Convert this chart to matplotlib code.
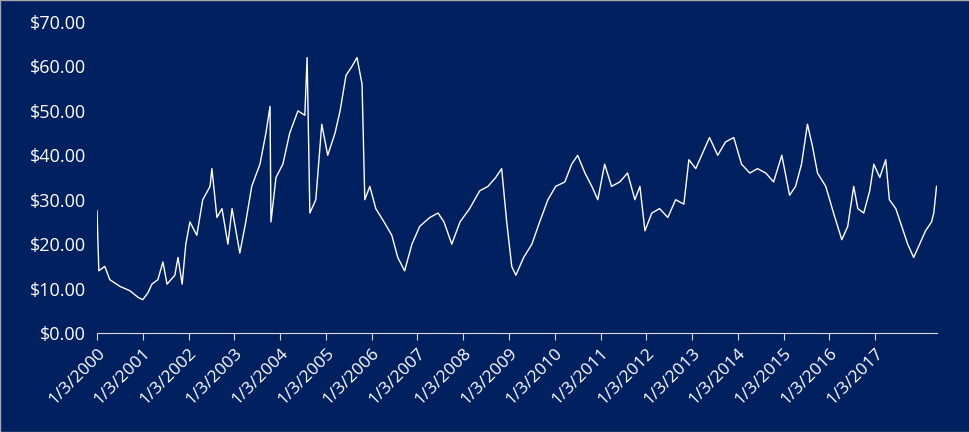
import matplotlib
matplotlib.use("Agg")
import matplotlib.pyplot as plt
from matplotlib.ticker import FuncFormatter

# price knots (decimal year, dollars)
years = [2000.00, 2000.04, 2000.17, 2000.28, 2000.50, 2000.72, 2000.90, 2001.00, 2001.11, 2001.20,
         2001.33, 2001.44, 2001.53, 2001.70, 2001.77, 2001.86, 2001.94, 2002.03, 2002.18, 2002.31,
         2002.47, 2002.51, 2002.62, 2002.73, 2002.86, 2002.95, 2003.12, 2003.25, 2003.38, 2003.56,
         2003.69, 2003.78, 2003.80, 2003.91, 2004.06, 2004.21, 2004.39, 2004.54, 2004.59, 2004.65,
         2004.78, 2004.91, 2005.04, 2005.20, 2005.31, 2005.44, 2005.57, 2005.68, 2005.79, 2005.85,
         2005.96, 2006.09, 2006.27, 2006.44, 2006.57, 2006.72, 2006.88, 2007.05, 2007.27, 2007.45,
         2007.58, 2007.75, 2007.93, 2008.14, 2008.36, 2008.54, 2008.71, 2008.84, 2008.95, 2009.06,
         2009.15, 2009.32, 2009.50, 2009.67, 2009.85, 2010.02, 2010.22, 2010.37, 2010.50, 2010.66,
         2010.81, 2010.94, 2011.09, 2011.24, 2011.42, 2011.59, 2011.75, 2011.86, 2011.97, 2012.12,
         2012.29, 2012.47, 2012.64, 2012.82, 2012.93, 2013.08, 2013.25, 2013.38, 2013.56, 2013.73,
         2013.91, 2014.08, 2014.26, 2014.43, 2014.61, 2014.78, 2014.96, 2015.13, 2015.26, 2015.39,
         2015.52, 2015.63, 2015.74, 2015.92, 2016.09, 2016.27, 2016.40, 2016.53, 2016.62, 2016.75,
         2016.88, 2016.97, 2017.10, 2017.23, 2017.31, 2017.45, 2017.58, 2017.71, 2017.84, 2017.97,
         2018.10, 2018.23, 2018.28, 2018.34]
prices = [27.5, 14, 15, 12, 10.5, 9.5, 8, 7.5, 9, 11,
          12, 16, 11, 13, 17, 11, 20, 25, 22, 30,
          33, 37, 26, 28, 20, 28, 18, 25, 33, 38,
          45, 51, 25, 35, 38, 45, 50, 49, 62, 27,
          30, 47, 40, 45, 50, 58, 60, 62, 56, 30,
          33, 28, 25, 22, 17, 14, 20, 24, 26, 27,
          25, 20, 25, 28, 32, 33, 35, 37, 25, 15,
          13, 17, 20, 25, 30, 33, 34, 38, 40, 36,
          33, 30, 38, 33, 34, 36, 30, 33, 23, 27,
          28, 26, 30, 29, 39, 37, 41, 44, 40, 43,
          44, 38, 36, 37, 36, 34, 40, 31, 33, 38,
          47, 42, 36, 33, 27, 21, 24, 33, 28, 27,
          32, 38, 35, 39, 30, 28, 24, 20, 17, 20,
          23, 25, 27, 33]
tick_years = list(range(2000, 2018))
tick_labels = ["1/3/%d" % y for y in tick_years]

bg = "#002060"
fig = plt.figure(figsize=(9.7, 4.32), dpi=100, facecolor=bg)
ax = fig.add_axes([97/970, 1 - 333/432, (937-97)/970, (333-22)/432], facecolor=bg)
ax.plot(years, prices, color="white", lw=1)
ax.set_xlim(2000, 2018.35)
ax.set_ylim(0, 70)
ax.set_yticks(range(0, 71, 10))
ax.yaxis.set_major_formatter(FuncFormatter(lambda v, p: "$%.2f" % v))
ax.set_xticks(tick_years)
ax.set_xticklabels(tick_labels, rotation=45, ha="right", rotation_mode="anchor")
for s in ["top", "right", "left"]:
    ax.spines[s].set_visible(False)
ax.spines["bottom"].set_color("#d9d9d9")
ax.tick_params(axis="y", length=0, colors="white", labelsize=13, pad=8)
ax.tick_params(axis="x", length=5, color="#d9d9d9", colors="white", labelsize=12.5, pad=4)
for lab in ax.get_xticklabels() + ax.get_yticklabels():
    lab.set_fontfamily("Open Sans")
fig.patches.append(plt.Rectangle((0, 0), 1, 1, transform=fig.transFigure, fill=False,
                                 edgecolor="#a6a6a6", lw=1))
fig.savefig("out.png", dpi=100, facecolor=bg)
